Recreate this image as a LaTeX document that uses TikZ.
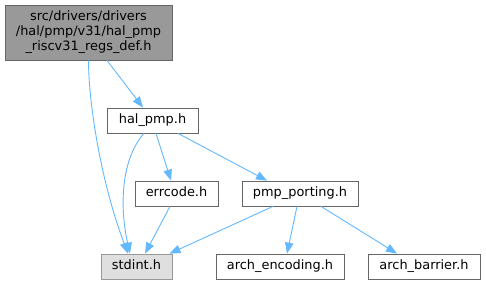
\documentclass[tikz,border=0pt]{standalone}
\usepackage{fontspec}
\setmainfont{DejaVu Sans}
\usetikzlibrary{arrows.meta}

\definecolor{edgeblue}{HTML}{63B8FF}
\definecolor{rootfill}{HTML}{999999}
\definecolor{boxline}{HTML}{666666}
\definecolor{sysfill}{HTML}{DFDFDF}
\definecolor{sysline}{HTML}{999999}

\begin{document}
\begin{tikzpicture}[x=1pt, y=-1pt, every node/.style={font=\fontsize{12.9}{15}\selectfont},
    filebox/.style={draw=boxline, fill=white, line width=0.8pt, inner sep=0pt,
        minimum height=25pt, text height=9.6pt, text depth=2.8pt},
    dep/.style={draw=edgeblue, line width=0.9pt, -{Triangle[length=11pt,width=8.5pt]}}]
    \useasboundingbox (0,0) rectangle (486,285);

    % Root header
    \node[filebox, fill=rootfill, minimum width=167pt, minimum height=55pt,
        text height=, text depth=, align=center] (root) at (88.5,32.5)
        {src/drivers/drivers\\/hal/pmp/v31/hal\_pmp\\\_riscv31\_regs\_def.h};

    % Included headers
    \node[filebox, minimum width=91pt] (halpmp) at (152.5,120.5) {hal\_pmp.h};
    \node[filebox, minimum width=83pt] (errcode) at (176.5,193.5) {errcode.h};
    \node[filebox, minimum width=116pt] (porting) at (300,193.5) {pmp\_porting.h};

    % Bottom row
    \node[filebox, fill=sysfill, draw=sysline, minimum width=71pt] (stdint) at (136.5,266.5) {stdint.h};
    \node[filebox, minimum width=128pt] (archenc) at (280,266.5) {arch\_encoding.h};
    \node[filebox, minimum width=112pt] (archbar) at (424,266.5) {arch\_barrier.h};

    % Arrows
    \draw[dep] ([xshift=18.5]root.south) -- ([xshift=-9.5]halpmp.north);
    \draw[dep] (root.south) .. controls +(0,40) and +(-28,-74) .. ([xshift=-8.5]stdint.north);
    \draw[dep] ([xshift=-8.5]halpmp.south) .. controls +(-24,27) and +(-10,-44) .. ([xshift=-6.5]stdint.north);
    \draw[dep] ([xshift=3.5]halpmp.south) -- ([xshift=-5.5]errcode.north);
    \draw[dep] ([xshift=25.5]halpmp.south) -- ([xshift=-33]porting.north);
    \draw[dep] ([xshift=-6.5]errcode.south) -- ([xshift=8.5]stdint.north);
    \draw[dep] ([xshift=-27]porting.south) -- ([xshift=33]stdint.north);
    \draw[dep] ([xshift=-3]porting.south) -- ([xshift=7]archenc.north);
    \draw[dep] ([xshift=21]porting.south) -- ([xshift=-27]archbar.north);
\end{tikzpicture}
\end{document}
